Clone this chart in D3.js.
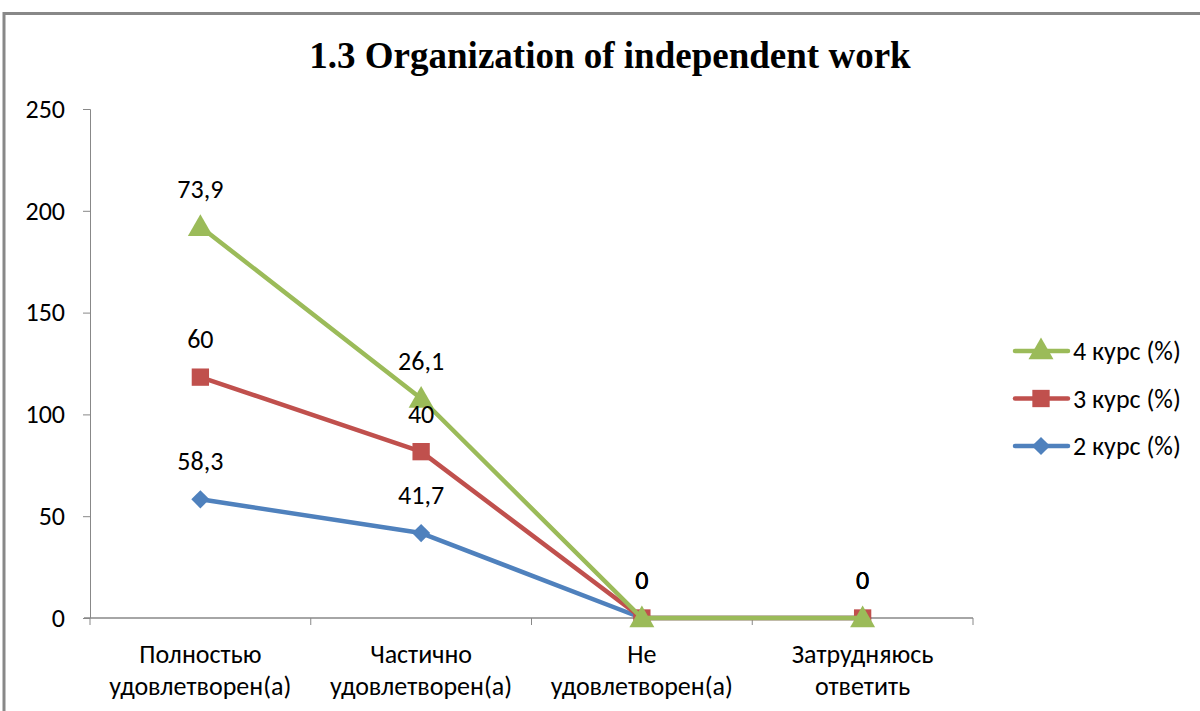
<!DOCTYPE html>
<html>
<head>
<meta charset="utf-8">
<script src="https://cdn.jsdelivr.net/npm/d3@7"></script>
<style>
    body { margin: 0; background: #fff; }
    svg { display: block; }
    text { font-family: Carlito, "Noto Sans", sans-serif; fill: #000; }
</style>
</head>
<body>
<svg width="1200" height="711"></svg>
<script>
// Chart data
const categories = ['Полностью\nудовлетворен(а)', 'Частично\nудовлетворен(а)', 'Не\nудовлетворен(а)', 'Затрудняюсь\nответить'];
const course2 = [58.3, 41.7, 0, 0];
const course3 = [60, 40, 0, 0];
const course4 = [73.9, 26.1, 0, 0];
const seriesNames = ['2 курс (%)', '3 курс (%)', '4 курс (%)'];
const yTicks = [0, 50, 100, 150, 200, 250];

const colors = ['#4F81BD', '#C0504D', '#9BBB59'];
const shapes = [d3.symbolSquare, d3.symbolSquare, d3.symbolTriangle];
const sizes = [165, 300, 270];
const rotations = [45, 0, 0];
const fontSize = '26px';

const svg = d3.select('svg');

// Frame
svg.append('path')
    .attr('d', 'M4,711 L4,13.5 L1200,13.5')
    .attr('fill', 'none')
    .attr('stroke', '#888')
    .attr('stroke-width', 3);

// Title
svg.append('text')
    .attr('x', 610)
    .attr('y', 68)
    .attr('text-anchor', 'middle')
    .style('font-family', '"Liberation Serif", "Times New Roman", serif')
    .style('font-weight', 'bold')
    .style('font-size', '37px')
    .text('1.3 Organization of independent work');

// Scales
const x = d3.scaleBand().domain(d3.range(categories.length)).range([90, 973]);
const y = d3.scaleLinear().domain([0, 250]).range([618, 109]);

// Stacked values (Excel stacked line)
const raw = [course2, course3, course4];
const stacked = [];
raw.forEach((s, i) => {
    stacked.push(s.map((v, j) => v + (i > 0 ? stacked[i - 1][j] : 0)));
});

// Y axis
const yAxis = svg.append('g')
    .attr('transform', 'translate(90,0)')
    .call(d3.axisLeft(y).tickValues(yTicks).tickSize(7).tickPadding(18));
yAxis.select('.domain').attr('stroke', '#888').attr('d', 'M-7,109.5H0.5V618');
yAxis.selectAll('line').attr('stroke', '#888');
yAxis.selectAll('text')
    .style('font-size', fontSize)
    .style('font-family', 'Carlito, "Noto Sans", sans-serif')
    .attr('fill', '#000');

// X axis
const xAxisG = svg.append('g').attr('transform', 'translate(0,618)');
xAxisG.append('line')
    .attr('x1', 84).attr('x2', 973)
    .attr('stroke', '#888').attr('stroke-width', 1.5);
xAxisG.selectAll('line.tick')
    .data(d3.range(categories.length + 1))
    .enter()
    .append('line')
    .attr('class', 'tick')
    .attr('x1', (d) => 90 + d * x.bandwidth())
    .attr('x2', (d) => 90 + d * x.bandwidth())
    .attr('y1', 0).attr('y2', 7)
    .attr('stroke', '#888');
xAxisG.selectAll('text.cat')
    .data(categories)
    .enter()
    .append('text')
    .attr('class', 'cat')
    .attr('text-anchor', 'middle')
    .style('font-size', fontSize)
    .each(function (d, i) {
        const t = d3.select(this);
        d.split('\n').forEach((line, k) => {
            t.append('tspan')
                .attr('x', x(i) + x.bandwidth() / 2)
                .attr('y', 45 + k * 32)
                .text(line);
        });
    });

// Lines and markers
const line = d3.line()
    .x((d, j) => x(j) + x.bandwidth() / 2)
    .y((d) => y(d));

stacked.forEach((s, i) => {
    const g = svg.append('g');
    g.append('path')
        .datum(s)
        .attr('d', line)
        .attr('fill', 'none')
        .attr('stroke', colors[i])
        .attr('stroke-width', 4.5)
        .attr('stroke-linejoin', 'round');
    g.selectAll('path.marker')
        .data(s)
        .enter()
        .append('path')
        .attr('class', 'marker')
        .attr('d', d3.symbol().type(shapes[i]).size(sizes[i]))
        .attr('transform', (d, j) =>
            `translate(${x(j) + x.bandwidth() / 2},${y(d) + (i === 2 ? 2 : 0)}) rotate(${rotations[i]})`)
        .attr('fill', colors[i]);
});

// Data labels
stacked.forEach((s, i) => {
    svg.append('g')
        .selectAll('text')
        .data(s)
        .enter()
        .append('text')
        .attr('x', (d, j) => x(j) + x.bandwidth() / 2)
        .attr('y', (d) => y(d) - 29)
        .attr('text-anchor', 'middle')
        .style('font-size', fontSize)
        .text((d, j) => String(raw[i][j]).replace('.', ','));
});

// Legend
const legend = svg.append('g');
[2, 1, 0].forEach((i, k) => {
    const ly = 351 + k * 47.5;
    legend.append('line')
        .attr('x1', 1015).attr('x2', 1068)
        .attr('y1', ly).attr('y2', ly)
        .attr('stroke', colors[i])
        .attr('stroke-width', 4.5)
        .attr('stroke-linecap', 'round');
    legend.append('path')
        .attr('d', d3.symbol().type(shapes[i]).size(sizes[i]))
        .attr('transform', `translate(1041,${ly + (i === 2 ? 1 : 0)}) rotate(${rotations[i]})`)
        .attr('fill', colors[i]);
    legend.append('text')
        .attr('x', 1073)
        .attr('y', ly + 9)
        .style('font-size', fontSize)
        .text(seriesNames[i]);
});
</script>
</body>
</html>
